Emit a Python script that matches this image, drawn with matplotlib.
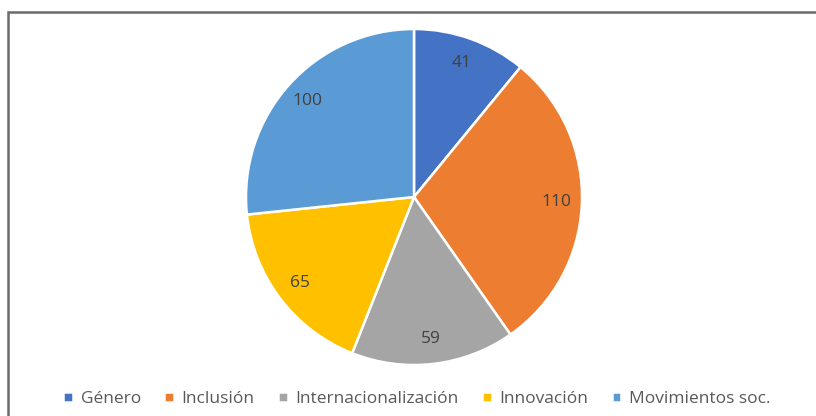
import matplotlib.pyplot as plt
from matplotlib.patches import Rectangle

categories = ['Género', 'Inclusión', 'Internacionalización', 'Innovación', 'Movimientos soc.']
values = [41, 110, 59, 65, 100]
colors = ['#4472C4', '#ED7D31', '#A5A5A5', '#FFC000', '#5B9BD5']

plt.rcParams['font.family'] = ['Open Sans', 'DejaVu Sans']

fig = plt.figure(figsize=(8.16, 4.16), dpi=100)

# chart frame (only left/top edges fall inside the image)
fig.patches.append(Rectangle((7.5 / 816, -0.1), 1.2, (416 - 12.5) / 416 + 0.1,
                             transform=fig.transFigure, fill=False,
                             edgecolor='#6b6b6b', linewidth=1.8))

ax = fig.add_axes([246 / 816, 51 / 416, 336 / 816, 336 / 416])
wedges, texts = ax.pie(values, colors=colors, startangle=90, counterclock=False,
                       labels=[str(v) for v in values], labeldistance=0.85,
                       wedgeprops=dict(edgecolor='white', linewidth=1.8),
                       textprops=dict(color='#404040', fontsize=12.5))
for t in texts:
    t.set_horizontalalignment('center')
    t.set_verticalalignment('center')
ax.set_xlim(-1, 1)
ax.set_ylim(-1, 1)
ax.set_aspect('equal')
ax.axis('off')

fig.legend(wedges, categories, loc='center', bbox_to_anchor=(417 / 816, 1 - 399 / 416),
           ncol=5, frameon=False, fontsize=12.5, handlelength=0.55, handleheight=0.55,
           handletextpad=0.45, columnspacing=1.35, labelcolor='#595959')

fig.savefig('out.png', dpi=100)
